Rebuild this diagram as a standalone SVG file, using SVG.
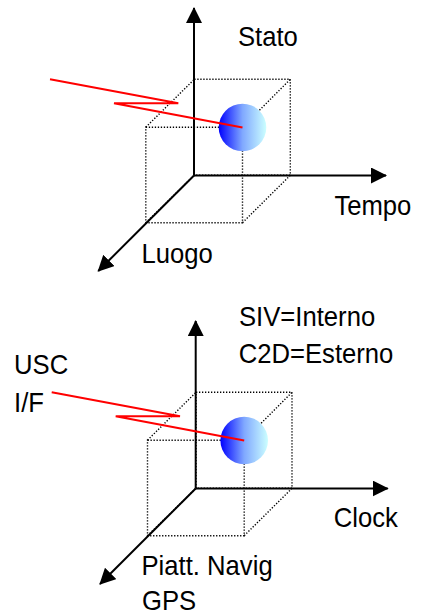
<svg xmlns="http://www.w3.org/2000/svg" width="423" height="616" viewBox="0 0 423 616">
  <style>
    .axis { stroke: #000; stroke-width: 2; fill: none; marker-end: url(#arrow); }
    .dot { stroke: #000; stroke-width: 1.4; fill: none; stroke-dasharray: 1.3 1.7; }
    .sig { stroke: #ff0000; stroke-width: 2; fill: none; stroke-linejoin: miter; }
    .lbl { font-family: "Liberation Sans", Arial, sans-serif; font-size: 28.5px; fill: #000; }
  </style>
  <defs>
    <marker id="arrow" viewBox="0 0 16 16" markerWidth="16" markerHeight="16" refX="15" refY="8" orient="auto" markerUnits="userSpaceOnUse">
      <path d="M0,0 L16,8 L0,16 z" fill="#000"/>
    </marker>
    <linearGradient id="ball" x1="0" y1="0" x2="1" y2="0">
      <stop offset="0" stop-color="#0000ff"/>
      <stop offset="0.5" stop-color="#80a8ff"/>
      <stop offset="1" stop-color="#ccffff"/>
    </linearGradient>
    <g id="cube">
      <rect x="145.8" y="127.2" width="96.7" height="95.5" class="dot"/>
      <rect x="194.3" y="79.3" width="96" height="96" class="dot"/>
      <path class="dot" d="M145.8,127.2 L194.3,79.3 M242.5,127.2 L290.3,79.3 M242.5,222.7 L290.3,175.3 M145.8,222.7 L194.3,175.3"/>
    </g>
  </defs>

  <!-- Top diagram -->
  <g id="diagram-top">
    <use href="#cube"/>
    <g id="connectors-top">
      <path class="axis" d="M194,175.5 V8"/>
      <path class="axis" d="M194,175.5 H386"/>
      <path class="axis" d="M194,175.5 L98.3,271"/>
    </g>
    <g id="sphere-top">
      <circle cx="242.5" cy="127.5" r="23.8" fill="url(#ball)"/>
    </g>
    <g id="signal-top">
      <path class="sig" d="M50,79.3 L178.3,103.3 L114,103.3 L242.5,127.5"/>
    </g>
    <g id="label-stato"><text class="lbl" transform="translate(238,46) scale(0.9,1)">Stato</text></g>
    <g id="label-tempo"><text class="lbl" transform="translate(334.4,215) scale(0.9,1)">Tempo</text></g>
    <g id="label-luogo"><text class="lbl" transform="translate(141.5,263) scale(0.9,1)">Luogo</text></g>
  </g>

  <!-- Bottom diagram -->
  <g id="diagram-bottom">
    <g transform="translate(1.7,313)">
      <use href="#cube"/>
      <g id="connectors-bottom">
        <path class="axis" d="M194,175.5 V8"/>
        <path class="axis" d="M194,175.5 H386"/>
        <path class="axis" d="M194,175.5 L98.3,271"/>
      </g>
      <g id="sphere-bottom">
        <circle cx="242.5" cy="127.5" r="23.8" fill="url(#ball)"/>
      </g>
      <g id="signal-bottom">
        <path class="sig" d="M50,79.3 L178.3,103.3 L114,103.3 L242.5,127.5"/>
      </g>
    </g>
    <g id="label-siv"><text class="lbl" transform="translate(239,326) scale(0.9,1)">SIV=Interno</text></g>
    <g id="label-c2d"><text class="lbl" transform="translate(238.7,363.3) scale(0.9,1)">C2D=Esterno</text></g>
    <g id="label-usc">
      <text class="lbl" transform="translate(14,374) scale(0.9,1)">USC</text>
      <text class="lbl" transform="translate(14,411.7) scale(0.9,1)">I/F</text>
    </g>
    <g id="label-clock"><text class="lbl" transform="translate(333.7,526.7) scale(0.9,1)">Clock</text></g>
    <g id="label-piatt">
      <text class="lbl" transform="translate(141.5,575) scale(0.9,1)">Piatt. Navig</text>
      <text class="lbl" transform="translate(142,610) scale(0.9,1)">GPS</text>
    </g>
  </g>
</svg>
